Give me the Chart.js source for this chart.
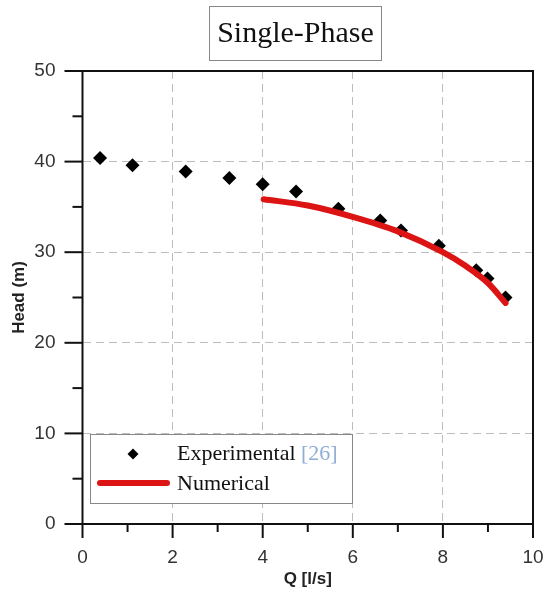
<!DOCTYPE html>
<html>
<head>
<meta charset="utf-8">
<script src="https://cdn.jsdelivr.net/npm/chart.js@4"></script>
<style>
  html, body { margin: 0; padding: 0; background: #fff; }
  #wrap { width: 546px; height: 596px; }
</style>
</head>
<body>
<div id="wrap"><canvas id="hq" width="546" height="596"></canvas></div>
<script>
// Q-H curve, single-phase flow
const expQ    = [0.39, 1.11, 2.29, 3.26, 4.0, 4.74, 5.68, 6.61, 7.07, 7.91, 8.74, 8.99, 9.39];
const expHead = [40.4, 39.6, 38.9, 38.2, 37.5, 36.7, 34.8, 33.5, 32.4, 30.7, 28.0, 27.1, 25.0];

const numQ    = [4.02, 5.0, 6.0, 7.0, 8.0, 8.5, 9.0, 9.39];
const numHead = [35.85, 35.15, 33.9, 32.3, 30.0, 28.5, 26.6, 24.4];

const xMajor = [0, 2, 4, 6, 8, 10];
const yMajor = [0, 10, 20, 30, 40, 50];

const RED = '#dc1414';
const SERIF = '"Liberation Serif", "Times New Roman", serif';
const SANS = '"Liberation Sans", Arial, sans-serif';

const toXY = (xs, ys) => xs.map((x, i) => ({ x, y: ys[i] }));

// frame, outward tick marks, boxed title and in-plot legend
const decor = {
  id: 'decor',
  afterDraw(chart) {
    const { ctx, chartArea: a, scales: { x, y } } = chart;
    ctx.save();

    ctx.strokeStyle = '#111';
    ctx.lineWidth = 2;
    ctx.strokeRect(a.left, a.top, a.right - a.left, a.bottom - a.top);

    ctx.lineWidth = 2;
    for (let v = 0; v <= 10; v++) {
      const px = x.getPixelForValue(v);
      const len = v % 2 === 0 ? 14 : 8;
      ctx.beginPath(); ctx.moveTo(px, a.bottom); ctx.lineTo(px, a.bottom + len); ctx.stroke();
    }
    for (let v = 0; v <= 50; v += 5) {
      const py = y.getPixelForValue(v);
      const len = v % 10 === 0 ? 18 : 10;
      ctx.beginPath(); ctx.moveTo(a.left, py); ctx.lineTo(a.left - len, py); ctx.stroke();
    }

    // title box
    ctx.fillStyle = '#fff';
    ctx.strokeStyle = '#888';
    ctx.lineWidth = 1;
    ctx.fillRect(209.5, 6.5, 172, 54);
    ctx.strokeRect(209.5, 6.5, 172, 54);
    ctx.fillStyle = '#111';
    ctx.font = '30px ' + SERIF;
    ctx.textAlign = 'center';
    ctx.textBaseline = 'middle';
    ctx.fillText('Single-Phase', 295.5, 34);

    // legend
    ctx.fillStyle = '#fff';
    ctx.strokeStyle = '#888';
    ctx.fillRect(90.5, 434.5, 262, 69);
    ctx.strokeRect(90.5, 434.5, 262, 69);

    ctx.fillStyle = '#000';
    ctx.beginPath();
    ctx.moveTo(133, 448.5); ctx.lineTo(138.5, 454); ctx.lineTo(133, 459.5); ctx.lineTo(127.5, 454);
    ctx.closePath(); ctx.fill();

    ctx.strokeStyle = RED;
    ctx.lineWidth = 6;
    ctx.lineCap = 'round';
    ctx.beginPath(); ctx.moveTo(100, 483); ctx.lineTo(167, 483); ctx.stroke();

    ctx.font = '22px ' + SERIF;
    ctx.textAlign = 'left';
    ctx.textBaseline = 'middle';
    ctx.fillStyle = '#111';
    ctx.fillText('Experimental', 177, 454);
    const w = ctx.measureText('Experimental ').width;
    ctx.fillStyle = '#8eaed6';
    ctx.fillText('[26]', 177 + w, 454);
    ctx.fillStyle = '#111';
    ctx.fillText('Numerical', 177, 484);

    ctx.restore();
  }
};

const gridStyle = (last) => ({
  drawTicks: false,
  lineWidth: 1,
  color: c => (c.tick && (c.tick.value === 0 || c.tick.value === last)) ? 'rgba(0,0,0,0)' : '#bdbdbd'
});

new Chart(document.getElementById('hq'), {
  type: 'scatter',
  data: {
    datasets: [
      {
        label: 'Numerical',
        type: 'line',
        data: toXY(numQ, numHead),
        borderColor: RED,
        borderWidth: 6,
        borderCapStyle: 'round',
        pointRadius: 0,
        cubicInterpolationMode: 'monotone',
        fill: false
      },
      {
        label: 'Experimental',
        data: toXY(expQ, expHead),
        pointStyle: 'rectRot',
        pointRadius: 7,
        backgroundColor: '#000',
        borderColor: '#000',
        borderWidth: 0
      }
    ]
  },
  plugins: [decor],
  options: {
    responsive: false,
    animation: false,
    layout: { padding: { top: 71, right: 13, left: 0, bottom: 0 } },
    plugins: {
      legend: { display: false },
      tooltip: { enabled: false }
    },
    scales: {
      x: {
        type: 'linear',
        min: 0, max: 10,
        border: { display: false, dash: [8, 5] },
        grid: gridStyle(10),
        ticks: {
          stepSize: 1,
          padding: 22,
          color: '#333',
          font: { family: SANS, size: 19 },
          callback: v => xMajor.includes(v) ? String(v) : null
        },
        title: {
          display: true,
          text: 'Q [l/s]',
          color: '#222',
          font: { family: SANS, size: 17, weight: 'bold' },
          padding: { top: 0, bottom: 6 }
        },
        afterFit: s => { s.height = 72; s.paddingLeft = 0; s.paddingRight = 0; }
      },
      y: {
        type: 'linear',
        min: 0, max: 50,
        border: { display: false, dash: [8, 5] },
        grid: gridStyle(50),
        ticks: {
          stepSize: 5,
          padding: 27,
          color: '#333',
          font: { family: SANS, size: 19 },
          callback: v => yMajor.includes(v) ? String(v) : null
        },
        title: {
          display: true,
          text: 'Head (m)',
          color: '#222',
          font: { family: SANS, size: 17, weight: 'bold' },
          padding: { top: 9, bottom: 0 }
        },
        afterFit: s => { s.width = 82.5; s.paddingTop = 0; s.paddingBottom = 0; }
      }
    }
  }
});
</script>
</body>
</html>
